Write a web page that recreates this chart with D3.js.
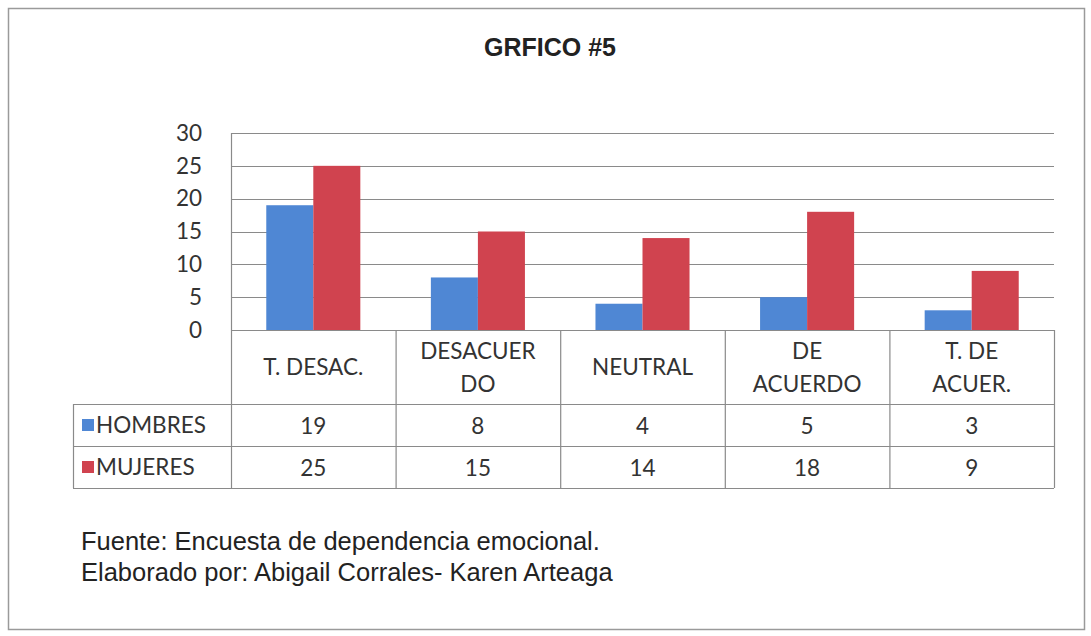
<!DOCTYPE html>
<html>
<head>
<meta charset="utf-8">
<script src="https://cdn.jsdelivr.net/npm/d3@7"></script>
<style>
  body { margin: 0; background: #fff; }
  svg { display: block; }
</style>
</head>
<body>
<svg id="chart" width="1091" height="636"></svg>
<script>
// data
var categories = [['T. DESAC.'], ['DESACUER', 'DO'], ['NEUTRAL'], ['DE', 'ACUERDO'], ['T. DE', 'ACUER.']];
var seriesNames = ['HOMBRES', 'MUJERES'];
var hombres = [19, 8, 4, 5, 3];
var mujeres = [25, 15, 14, 18, 9];
var yTicks = [0, 5, 10, 15, 20, 25, 30];
var colors = ['#4f87d4', '#d0434f'];

var title = 'GRFICO #5';
var notes = ['Fuente: Encuesta de dependencia emocional.', 'Elaborado por: Abigail Corrales- Karen Arteaga'];

var svg = d3.select('#chart');
var gridColor = '#8a8a8a';
var textColor = '#333';
var bodyFont = 'Lato, "Open Sans", sans-serif';
var bodySize = 22.5;

// outer frame
svg.append('rect')
  .attr('x', 8.5).attr('y', 8.5)
  .attr('width', 1076).attr('height', 621)
  .attr('fill', 'none').attr('stroke', '#9a9a9a').attr('stroke-width', 1.5);

svg.append('text')
  .attr('x', 550).attr('y', 56)
  .attr('text-anchor', 'middle')
  .attr('font-family', '"Liberation Sans", Arial, sans-serif')
  .attr('font-weight', 'bold').attr('font-size', 25)
  .attr('fill', '#222')
  .text(title);

var plotLeft = 231, plotRight = 1054, plotTop = 133, plotBottom = 330;
var rowTop = 404, rowMid = 446, rowBottom = 488, legendLeft = 73;

var x = d3.scaleBand()
  .domain(d3.range(categories.length))
  .range([plotLeft, plotRight])
  .padding(0);

var xs = d3.scaleBand()
  .domain(d3.range(seriesNames.length))
  .range([0, x.bandwidth()])
  .paddingInner(0)
  .paddingOuter(0.75);

var y = d3.scaleLinear().domain([0, 30]).range([plotBottom, plotTop]);

// gridlines
svg.append('g').selectAll('line')
  .data(yTicks)
  .enter().append('line')
  .attr('x1', plotLeft).attr('x2', plotRight)
  .attr('y1', function(d) { return Math.round(y(d)) + 0.5; })
  .attr('y2', function(d) { return Math.round(y(d)) + 0.5; })
  .attr('stroke', gridColor).attr('stroke-width', 1.2);

svg.append('line')
  .attr('x1', plotLeft + 0.5).attr('x2', plotLeft + 0.5)
  .attr('y1', plotTop).attr('y2', plotBottom)
  .attr('stroke', gridColor).attr('stroke-width', 1.2);

// y axis labels
var yAxis = d3.axisLeft(y).tickValues(yTicks).tickSize(0).tickPadding(29);
var yg = svg.append('g')
  .attr('transform', 'translate(' + plotLeft + ',0)')
  .call(yAxis);
yg.select('.domain').remove();
yg.selectAll('text')
  .attr('font-family', bodyFont).attr('font-size', bodySize)
  .attr('fill', textColor);

// bars
var allSeries = [hombres, mujeres];
allSeries.forEach(function(vals, si) {
  svg.append('g').selectAll('rect')
    .data(vals)
    .enter().append('rect')
    .attr('x', function(d, i) { return x(i) + xs(si); })
    .attr('width', xs.bandwidth())
    .attr('y', function(d) { return y(d); })
    .attr('height', function(d) { return y(0) - y(d); })
    .attr('fill', colors[si]);
});

// data table
var table = svg.append('g').attr('stroke', gridColor).attr('stroke-width', 1.2);
var bounds = d3.range(categories.length).map(function(i) { return x(i); }).concat([plotRight]);
bounds.forEach(function(bx) {
  table.append('line')
    .attr('x1', bx + 0.5).attr('x2', bx + 0.5)
    .attr('y1', plotBottom).attr('y2', rowBottom);
});
[rowTop, rowMid, rowBottom].forEach(function(ry) {
  table.append('line')
    .attr('x1', legendLeft).attr('x2', plotRight)
    .attr('y1', ry + 0.5).attr('y2', ry + 0.5);
});
table.append('line')
  .attr('x1', legendLeft + 0.5).attr('x2', legendLeft + 0.5)
  .attr('y1', rowTop).attr('y2', rowBottom);

// header labels
var header = svg.append('g')
  .attr('font-family', bodyFont).attr('font-size', bodySize).attr('fill', textColor)
  .attr('text-anchor', 'middle');
categories.forEach(function(lines, i) {
  var cx = x(i) + x.bandwidth() / 2;
  var mid = (plotBottom + rowTop) / 2;
  var lh = 33;
  lines.forEach(function(t, k) {
    header.append('text')
      .attr('x', cx)
      .attr('y', mid + (k - (lines.length - 1) / 2) * lh)
      .attr('dy', '0.36em')
      .text(t);
  });
});

// value rows + legend keys
var rowY = [(rowTop + rowMid) / 2, (rowMid + rowBottom) / 2];
allSeries.forEach(function(vals, si) {
  var g = svg.append('g')
    .attr('font-family', bodyFont).attr('font-size', bodySize).attr('fill', textColor);
  g.selectAll('text.v')
    .data(vals)
    .enter().append('text')
    .attr('x', function(d, i) { return x(i) + x.bandwidth() / 2; })
    .attr('y', rowY[si] + 1)
    .attr('dy', '0.36em')
    .attr('text-anchor', 'middle')
    .text(function(d) { return d; });
  g.append('rect')
    .attr('x', 82).attr('y', rowY[si] - 6)
    .attr('width', 12).attr('height', 12)
    .attr('fill', colors[si]);
  g.append('text')
    .attr('x', 96).attr('y', rowY[si])
    .attr('dy', '0.36em')
    .text(seriesNames[si]);
});

// source notes
svg.append('g').selectAll('text')
  .data(notes)
  .enter().append('text')
  .attr('x', 81)
  .attr('y', function(d, i) { return 550 + i * 31; })
  .attr('font-family', '"Liberation Sans", Arial, sans-serif')
  .attr('font-size', 25.5).attr('fill', '#222')
  .text(function(d) { return d; });
</script>
</body>
</html>
